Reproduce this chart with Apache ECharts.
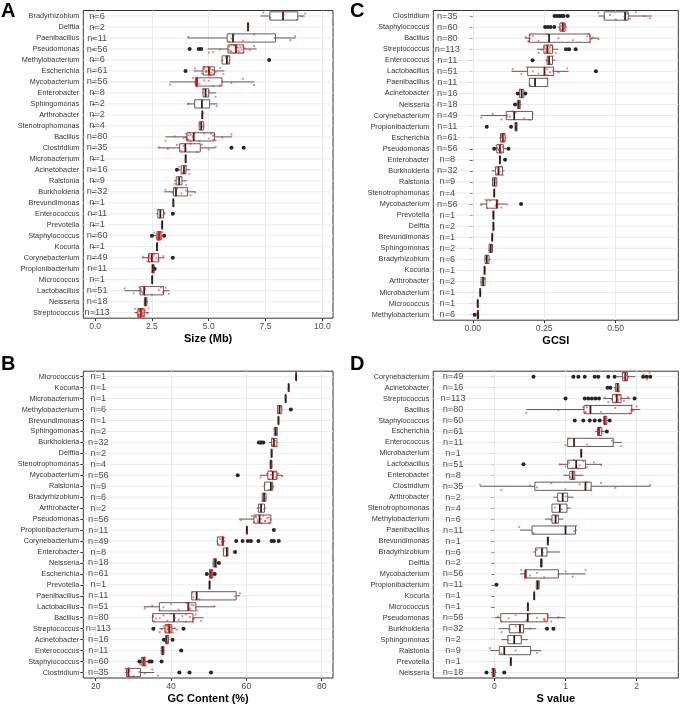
<!DOCTYPE html>
<html><head><meta charset="utf-8">
<script src="https://cdn.jsdelivr.net/npm/echarts@6/dist/echarts.min.js"></script>
<style>html,body{margin:0;padding:0;background:#fff}#c{width:685px;height:705px}</style>
</head><body><div id="c"></div>
<script>
// ---------- Panel A: genome size (Mb) ----------
const catsA = ['Bradyrhizobium','Delftia','Paenibacillus','Pseudomonas','Methylobacterium','Escherichia','Mycobacterium','Enterobacter','Sphingomonas','Arthrobacter','Stenotrophomonas','Bacillus','Clostridium','Microbacterium','Acinetobacter','Ralstonia','Burkholderia','Brevundimonas','Enterococcus','Prevotella','Staphylococcus','Kocuria','Corynebacterium','Propionibacterium','Micrococcus','Lactobacillus','Neisseria','Streptococcus'];
const nA = [6,2,11,56,6,61,56,8,2,2,4,80,35,1,16,9,32,1,11,1,60,1,49,11,1,51,18,113];
const boxA = [[7.28,7.69,8.27,8.92,9.22],[6.70,6.71,6.73,6.75,6.76],[4.07,5.81,6.07,7.94,8.82],[4.95,5.85,6.2,6.54,7.1],[5.56,5.59,5.8,5.92,5.96],[4.34,4.75,5.01,5.25,5.69],[3.28,4.41,4.48,5.58,7.01],[4.7,4.75,4.86,5.0,5.33],[4.04,4.38,4.7,5.04,5.39],[4.7,4.71,4.72,4.73,4.74],[4.57,4.58,4.67,4.78,4.79],[3.09,4.04,4.34,5.25,6.03],[2.79,3.72,3.97,4.63,5.29],3.98,[3.67,3.79,3.91,4.0,4.19],[3.48,3.57,3.7,3.82,4.04],[3.04,3.45,3.56,4.07,4.41],3.44,[2.69,2.76,2.87,3.01,3.09],2.95,[2.54,2.72,2.81,2.9,3.01],2.72,[2.06,2.35,2.5,2.79,3.05],[2.5,2.5,2.54,2.6,2.6],2.51,[1.29,1.98,2.16,3.01,3.28],[2.14,2.17,2.22,2.28,2.31],[1.73,1.88,2.01,2.16,2.38]];
const outA = [[],[],[],[4.16,4.56,4.67],[7.66],[3.98],[],[],[],[],[],[],[6.0,6.54],[],[3.6],[],[],[],[3.42],[],[2.5,3.04],[],[3.42],[2.62],[],[],[],[]];
const ptsA = [[7.4,7.7,8.3,8.9,9.1,9.25],[6.72,6.75],[4.1,5.9,6.0,6.1,6.5,7.0,7.9,8.6,8.8],[5.0,5.5,5.9,6.0,6.1,6.2,6.3,6.4,6.5,6.6,6.8,7.0,5.2,6.25,5.9,6.0,6.1,6.15,6.2,6.3,6.35,6.45,6.5,5.95],[5.6,5.75,5.85,5.9],[4.4,4.7,4.8,4.9,5.0,5.05,5.1,5.2,5.3,5.5,5.65,4.8,4.9,4.95,5.0,5.05,5.1,5.15,5.2,4.85,5.0],[3.3,4.3,4.45,4.5,4.8,5.2,5.6,6.0,6.5,7.0,4.46,4.42,4.45,4.47,4.5,4.6,5.0,5.5,4.44],[4.75,4.85,4.9,5.0,5.3],[4.1,5.35],[4.7,4.74],[4.6,4.65,4.7,4.76],[3.1,3.5,3.9,4.0,4.1,4.2,4.3,4.4,4.6,4.8,5.0,5.2,5.3,5.6,6.0,4.05,4.15,4.0,4.05,4.1,4.2,4.3,4.35,5.1,5.2,5.25,4.02],[2.8,3.2,3.6,3.8,3.9,4.0,4.2,4.5,4.7,5.0,5.3],[3.98],[3.7,3.85,3.9,3.95,4.0,4.15],[3.5,3.65,3.7,3.8,4.0],[3.1,3.4,3.5,3.55,3.6,3.8,4.0,4.2,4.4],[3.44],[2.75,2.85,2.9,3.0,3.05],[2.95],[2.6,2.7,2.75,2.8,2.82,2.85,2.9,2.95,3.0,2.75,2.78,2.8,2.82,2.84,2.86,2.88,2.78,2.8,2.83,2.76,2.81],[2.72],[2.1,2.3,2.35,2.4,2.5,2.6,2.7,2.8,3.0,2.36,2.4,2.45,2.5,2.52,2.55],[2.5,2.54,2.58],[2.51],[1.3,1.7,1.95,2.0,2.1,2.2,2.5,2.8,3.0,3.1,3.25,2.0,2.05,2.15,2.18,2.9,3.0],[2.18,2.22,2.26],[1.75,1.85,1.9,1.95,2.0,2.02,2.05,2.1,2.15,2.2,2.3,2.35,1.9,1.95,1.98,2.0,2.02,2.04,2.06,2.08,2.1,2.12,1.92,1.96,2.0,2.03,2.05,1.94]];
const ticksA = [0,2.5,5,7.5,10];

// ---------- Panel B: GC content (%) ----------
const catsB = ['Micrococcus','Kocuria','Microbacterium','Methylobacterium','Brevundimonas','Sphingomonas','Burkholderia','Delftia','Stenotrophomonas','Mycobacterium','Ralstonia','Bradyrhizobium','Arthrobacter','Pseudomonas','Propionibacterium','Corynebacterium','Enterobacter','Neisseria','Escherichia','Prevotella','Paenibacillus','Lactobacillus','Bacillus','Streptococcus','Acinetobacter','Enterococcus','Staphylococcus','Clostridium'];
const nB = [1,1,1,6,1,2,32,2,4,56,9,6,2,56,11,49,8,18,61,1,11,51,80,113,16,11,60,35];
const boxB = [73.2,71.2,70.4,[68.2,68.3,68.8,69.4,69.5],68.5,[67.4,67.4,67.8,68.2,68.2],[66.1,66.7,67.3,68.1,68.3],[66.6,66.6,66.7,66.8,66.8],[66.3,66.3,66.5,66.8,66.8],[63.6,65.7,67.0,68.1,69.6],[64.5,64.8,66.5,67.0,67.3],[64.2,64.2,64.7,65.2,65.2],[62.7,63.2,63.9,64.8,65.2],[58.1,62.0,63.5,66.5,66.6],[60.1,60.1,60.1,60.2,60.2],[52.1,52.3,53.7,53.9,54.3],[53.9,53.9,54.8,55.1,55.1],[51.0,51.2,51.7,52.1,52.3],[49.9,50.2,50.6,51.1,51.3],50.2,[45.3,45.5,46.8,57.3,58.3],[32.8,36.9,44.6,46.6,51.7],[34.9,35.1,40.8,45.8,48.6],[36.9,38.4,39.5,40.2,41.1],[38.4,38.6,38.8,39.3,39.6],[37.2,37.4,37.8,38.1,38.2],[32.0,32.2,32.7,33.1,33.8],[27.8,28.2,28.7,31.9,35.5]];
const outB = [[],[],[],[71.8],[],[],[63.3,63.7,64.0,64.5],[],[],[57.7],[],[],[],[],[67.3],[57.3,59.0,60.4,61.2,63.2,66.7,67.3,68.6],[57.0],[52.7],[49.5,51.6],[],[],[],[],[35.3,43.3],[38.1,40.4],[42.7],[31.6,34.2,34.8,37.5],[42.2,44.9,50.6]];
const ptsB = [[73.2],[71.2],[70.4],[68.4,68.8,69.2],[68.5],[67.5,68.1],[66.8,67.0,67.2,67.4,67.6,68.0,63.5],[66.7,66.7],[66.4,66.6],[63.8,65.5,66.0,66.5,67.0,67.5,68.0,68.5,69.5,66.5,67,67.2,67.8,68.1],[64.9,66.0,66.8,67.0],[64.3,64.8,65.1],[63.3,64.7],[58.5,61.5,62.0,62.5,63.0,63.5,64,64.5,65,65.5,66,66.4,62.5,63,63.5,64,65,66],[60.1,60.1],[52.5,53.0,53.5,53.7,53.9,54.1,53.6,53.7,53.8,53.9,53.7,53.8],[54.0,54.8,55.0],[51.3,51.7,52.0],[50.3,50.5,50.7,50.9,51.0,50.4,50.6,50.6,50.7,50.8,50.5],[50.2],[45.6,46.0,46.8,47.5,57.0,58.3],[33,35,37,38,40,42,44,44.6,45,46,47,51.5,44.5,44.6,44.7,45.5,46.5],[35.2,35.5,37,38,39,40,41,42,43,44,45,45.8,46.5,48,35.2,36,40.8,45.8,44,46],[37,37.5,38,38.5,39,39.3,39.6,40,40.5,41,41.5,38.8,39.8,39,39.2,39.4,39.5,39.6,39.8,40,38.6,38.9,39.5],[38.6,38.8,39.0,39.2],[37.5,37.8,38.0],[31.8,32.3,32.6,32.8,33.0,33.3,34,32.5,32.6,32.7,32.8,32.9,33,32.7],[27.9,28.3,28.6,29,30,31.5,33,35,36.5,28.2,28.5,28.7,28.8]];
const ticksB = [20,40,60,80];

// ---------- Panel C: GCSI ----------
const catsC = ['Clostridium','Staphylococcus','Bacillus','Streptococcus','Enterococcus','Lactobacillus','Paenibacillus','Acinetobacter','Neisseria','Corynebacterium','Propionibacterium','Escherichia','Pseudomonas','Enterobacter','Burkholderia','Ralstonia','Stenotrophomonas','Mycobacterium','Prevotella','Delftia','Brevundimonas','Sphingomonas','Bradyrhizobium','Kocuria','Arthrobacter','Microbacterium','Micrococcus','Methylobacterium'];
const nC = [35,60,80,113,11,51,11,16,18,49,11,61,56,8,32,9,4,56,1,2,1,2,6,1,2,1,1,6];
const boxC = [[0.439,0.46,0.533,0.544,0.626],[0.297,0.305,0.315,0.323,0.33],[0.183,0.198,0.267,0.41,0.442],[0.224,0.249,0.261,0.279,0.30],[0.255,0.26,0.267,0.279,0.29],[0.136,0.192,0.251,0.283,0.335],[0.198,0.198,0.218,0.262,0.262],[0.16,0.163,0.171,0.179,0.182],[0.152,0.156,0.161,0.166,0.17],[0.029,0.117,0.145,0.209,0.21],[0.148,0.148,0.151,0.155,0.155],[0.093,0.097,0.105,0.113,0.118],[0.078,0.084,0.095,0.107,0.122],[0.094,0.094,0.095,0.096,0.096],[0.066,0.08,0.09,0.104,0.111],[0.069,0.069,0.076,0.084,0.084],0.075,[0.026,0.049,0.084,0.087,0.119],0.072,0.072,0.068,[0.057,0.057,0.063,0.069,0.069],[0.041,0.043,0.049,0.057,0.062],0.041,[0.029,0.029,0.036,0.043,0.043],0.026,0.017,[0.015,0.016,0.018,0.02,0.021]];
const outC = [[0.286,0.295,0.303,0.31,0.318,0.332],[0.253,0.262,0.272,0.285],[],[0.326,0.337,0.36],[0.209],[0.431],[],[0.157,0.184],[0.148],[],[0.049,0.134],[],[0.075,0.125],[0.113],[],[],[],[0.169],[],[],[],[],[],[],[],[],[],[0.007]];
const ptsC = [[0.44,0.46,0.48,0.5,0.53,0.54,0.55,0.57,0.6,0.62],[0.305,0.31,0.315,0.32,0.323,0.31,0.312,0.315,0.318,0.32,0.316,0.314],[0.185,0.195,0.2,0.21,0.23,0.26,0.3,0.35,0.4,0.41,0.42,0.44,0.2,0.195,0.41,0.415,0.405],[0.23,0.24,0.25,0.255,0.26,0.265,0.27,0.28,0.29,0.255,0.26,0.262,0.265,0.27,0.258,0.275],[0.26,0.265,0.27,0.28],[0.14,0.17,0.19,0.21,0.23,0.25,0.26,0.28,0.3,0.33,0.25,0.26,0.27],[0.2,0.26],[0.165,0.17,0.175],[0.157,0.16,0.165],[0.03,0.07,0.1,0.12,0.13,0.15,0.18,0.21,0.12,0.14,0.2],[0.15,0.152],[0.098,0.102,0.106,0.11,0.112,0.1,0.104,0.108,0.105,0.103],[0.085,0.09,0.095,0.1,0.105,0.092,0.095,0.098,0.093],[0.095],[0.08,0.085,0.09,0.095,0.1,0.105],[0.07,0.076,0.082],[0.075],[0.03,0.045,0.05,0.06,0.08,0.086,0.1,0.12,0.084,0.085,0.086],[0.072],[0.072],[0.068],[0.058,0.068],[0.045,0.05,0.057],[0.041],[0.03,0.042],[0.026],[0.017],[0.018,0.02]];
const ticksC = [0,0.25,0.5];

// ---------- Panel D: S value ----------
const catsD = ['Corynebacterium','Acinetobacter','Streptococcus','Bacillus','Staphylococcus','Escherichia','Enterococcus','Microbacterium','Lactobacillus','Enterobacter','Clostridium','Arthrobacter','Stenotrophomonas','Methylobacterium','Paenibacillus','Brevundimonas','Bradyrhizobium','Delftia','Mycobacterium','Propionibacterium','Kocuria','Micrococcus','Pseudomonas','Burkholderia','Sphingomonas','Ralstonia','Prevotella','Neisseria'];
const nD = [49,16,113,80,60,61,11,1,51,8,35,2,4,6,11,1,6,2,56,11,1,1,56,32,2,9,1,18];
const boxD = [[1.72,1.80,1.84,1.87,1.98],[1.68,1.70,1.73,1.75,1.76],[1.53,1.66,1.72,1.78,1.91],[0.45,1.26,1.35,1.93,2.05],[1.52,1.54,1.55,1.58,1.6],[1.42,1.45,1.47,1.51,1.55],[1.03,1.03,1.12,1.67,1.79],1.22,[0.91,1.03,1.15,1.28,1.51],[0.97,1.06,1.10,1.13,1.25],[-0.2,0.57,1.28,1.36,2.19],[0.83,0.89,0.96,1.03,1.11],[0.81,0.81,0.92,1.02,1.07],[0.71,0.81,0.86,0.9,0.97],[0.36,0.53,1.0,1.14,1.16],0.75,[0.55,0.58,0.67,0.74,0.92],[0.65,0.65,0.66,0.67,0.67],[0.36,0.43,0.44,0.9,1.28],[0.59,0.59,0.61,0.63,0.63],0.56,0.47,[0.01,0.09,0.47,0.75,1.0],[0.06,0.21,0.36,0.41,0.59],[0.1,0.19,0.28,0.38,0.47],[-0.06,0.07,0.14,0.51,0.66],0.23,[-0.05,-0.03,-0.01,0.01,0.03]];
const outD = [[0.55,1.11,1.18,1.27,1.41,1.46,1.60,1.69,2.09,2.14,2.19],[1.59,1.63],[1.0,1.27,1.32,1.37,1.42,1.47,1.97],[],[1.13,1.25,1.34,1.41,1.48,1.62],[1.58],[],[],[0.41],[],[],[],[],[],[],[],[],[],[],[0.03],[],[],[],[0.74,0.83],[],[],[],[-0.11,0.14]];
const ptsD = [[1.8,1.82,1.84,1.86,1.88,2.1,2.15,2.18,1.83,1.84,1.85],[1.71,1.73,1.75],[1.55,1.6,1.65,1.7,1.72,1.75,1.78,1.82,1.88,1.7,1.72,1.74,1.76,1.73],[0.45,0.9,1.25,1.28,1.3,1.35,1.5,1.7,1.9,1.93,1.95,2.0,1.28,1.3,1.92,1.93],[1.54,1.55,1.57,1.55,1.56,1.55,1.56],[1.45,1.47,1.49,1.5,1.46,1.47,1.48,1.47],[1.0,1.05,1.12,1.3,1.65,1.78],[1.22],[0.92,1.0,1.05,1.1,1.15,1.2,1.25,1.3,1.4,1.5,1.12,1.18],[1.07,1.1,1.12],[-0.2,0.1,0.5,0.6,0.8,1.0,1.2,1.28,1.3,1.36,1.5,1.7,2.19],[0.9,1.0],[0.85,0.95],[0.8,0.88],[0.35,0.55,1.0,1.12,1.15],[0.75],[0.6,0.68],[0.66],[0.38,0.43,0.44,0.5,0.6,0.7,0.9,1.0,1.1,1.28,0.43,0.44,0.45,0.44],[0.6,0.62],[0.56],[0.47],[0.05,0.1,0.2,0.3,0.45,0.5,0.6,0.7,0.75,0.8,0.9,0.7,0.75,0.72],[0.1,0.22,0.3,0.36,0.4,0.5],[0.2,0.38],[-0.06,0.1,0.14,0.3,0.6],[0.23],[-0.03,-0.01,0.0,0.01]];
const ticksD = [0,1,2];

// ---------- layout / style ----------
const FONT = '"Liberation Sans", Arial, sans-serif';
const JIT = [-0.3,0.15,-0.1,0.32,0.05,-0.22,0.25,-0.35,0.0,0.2,-0.15,0.35,-0.05,0.1,-0.28,0.28,-0.18,0.08,-0.38,0.38];
const panels = [
  {cats:catsA,n:nA,box:boxA,out:outA,pts:ptsA,ticks:ticksA,dec:1,name:'Size (Mb)',min:-0.52,max:10.47,nX:0.09,
   grid:{left:83.3,top:10.5,width:249.7,height:307.7}},
  {cats:catsB,n:nB,box:boxB,out:outB,pts:ptsB,ticks:ticksB,dec:0,name:'GC Content (%)',min:16.7,max:83.0,nX:20.7,
   grid:{left:83.3,top:371.2,width:249.7,height:307.2}},
  {cats:catsC,n:nC,box:boxC,out:outC,pts:ptsC,ticks:ticksC,dec:2,name:'GCSI',min:-0.138,max:0.719,nX:-0.089,
   grid:{left:433.3,top:10.5,width:245,height:309.7}},
  {cats:catsD,n:nD,box:boxD,out:outD,pts:ptsD,ticks:ticksD,dec:0,name:'S value',min:-0.857,max:2.584,nX:-0.58,
   grid:{left:433.3,top:371.2,width:245,height:309.4}}
];
const toBox = b => (typeof b === 'number') ? [b,b,b,b,b] : b;

function renderBox(params, api) {
  const cat = api.value(0);
  const pMin = api.coord([api.value(1), cat]);
  const pQ1 = api.coord([api.value(2), cat]);
  const pMd = api.coord([api.value(3), cat]);
  const pQ3 = api.coord([api.value(4), cat]);
  const pMax = api.coord([api.value(5), cat]);
  const band = api.size([0, 1])[1];
  const h = band * 0.75;
  const y = pMd[1];
  const cs = params.coordSys;
  const gray = '#4d4d4d';
  return {type:'group', children:[
    {type:'line', shape:{x1:cs.x, y1:y, x2:cs.x+cs.width, y2:y}, style:{stroke:'#ebebeb', lineWidth:1}},
    {type:'line', shape:{x1:pMin[0], y1:y, x2:pQ1[0], y2:y}, style:{stroke:gray, lineWidth:0.9}},
    {type:'line', shape:{x1:pQ3[0], y1:y, x2:pMax[0], y2:y}, style:{stroke:gray, lineWidth:0.9}},
    {type:'rect', shape:{x:pQ1[0], y:y-h/2, width:Math.max(pQ3[0]-pQ1[0],0.5), height:h}, style:{fill:'#fff', stroke:gray, lineWidth:0.9}},
    {type:'line', shape:{x1:pMd[0], y1:y-h/2, x2:pMd[0], y2:y+h/2}, style:{stroke:'#1a1a1a', lineWidth:1.7}}
  ]};
}
function renderPt(params, api) {
  const p = api.coord([api.value(0), api.value(1)]);
  const band = api.size([0, 1])[1];
  const dy = JIT[api.value(2) % JIT.length] * band;
  return {type:'circle', shape:{cx:p[0], cy:p[1]+dy, r:1.1}, style:{fill:'rgba(255,20,20,0.55)'}};
}

const grids = [], xAxes = [], yAxes = [], series = [];
panels.forEach((P, gi) => {
  grids.push(Object.assign({show:true, borderColor:'#333', borderWidth:1, containLabel:false}, P.grid));
  xAxes.push({type:'value', gridIndex:gi, min:P.min, max:P.max,
    axisLine:{show:false},
    axisTick:{show:true, length:3, customValues:P.ticks, lineStyle:{color:'#333'}},
    axisLabel:{customValues:P.ticks, formatter:v => Number(v).toFixed(P.dec), fontSize:8.6, color:'#4d4d4d', margin:4, fontFamily:FONT},
    splitLine:{show:true, lineStyle:{color:'#ebebeb', width:1}},
    name:P.name, nameLocation:'middle', nameGap:15,
    nameTextStyle:{fontWeight:'bold', fontSize:11, color:'#000', fontFamily:FONT}});
  yAxes.push({type:'category', gridIndex:gi, data:P.cats, inverse:true,
    axisLine:{show:false},
    axisTick:{show:true, alignWithLabel:true, length:3, lineStyle:{color:'#333'}},
    axisLabel:{fontSize:7.3, color:'#333', margin:4, interval:0, fontFamily:FONT},
    splitLine:{show:false}});
  series.push({type:'custom', xAxisIndex:gi, yAxisIndex:gi, renderItem:renderBox,
    encode:{x:[1,2,3,4,5], y:0}, z:2,
    data:P.box.map((b, i) => [i].concat(toBox(b)))});
  const outs = [];
  P.out.forEach((arr, i) => arr.forEach(v => outs.push([v, i])));
  series.push({type:'scatter', xAxisIndex:gi, yAxisIndex:gi, symbolSize:4, z:3,
    itemStyle:{color:'#262626', opacity:1}, data:outs});
  const pts = [];
  P.pts.forEach((arr, i) => arr.forEach((v, k) => pts.push([v, i, k + i])));
  series.push({type:'custom', xAxisIndex:gi, yAxisIndex:gi, renderItem:renderPt, z:4,
    encode:{x:0, y:1}, data:pts});
  series.push({type:'scatter', xAxisIndex:gi, yAxisIndex:gi, symbolSize:1, z:5,
    itemStyle:{color:'rgba(0,0,0,0)'},
    label:{show:true, position:'inside', formatter:p => 'n=' + p.value[2], fontSize:9.2, color:'#1a1a1a', fontFamily:FONT},
    data:P.n.map((n, i) => [P.nX, i, n])});
});

const chart = echarts.init(document.getElementById('c'), null, {renderer:'canvas'});
chart.setOption({
  animation:false,
  backgroundColor:'#fff',
  textStyle:{fontFamily:FONT},
  grid:grids, xAxis:xAxes, yAxis:yAxes, series:series,
  graphic:[
    {type:'text', left:1, top:1, style:{text:'A', font:'bold 20px ' + FONT, fill:'#000'}},
    {type:'text', left:1, top:354, style:{text:'B', font:'bold 20px ' + FONT, fill:'#000'}},
    {type:'text', left:350, top:1, style:{text:'C', font:'bold 20px ' + FONT, fill:'#000'}},
    {type:'text', left:350, top:354, style:{text:'D', font:'bold 20px ' + FONT, fill:'#000'}}
  ]
});
</script></body></html>
